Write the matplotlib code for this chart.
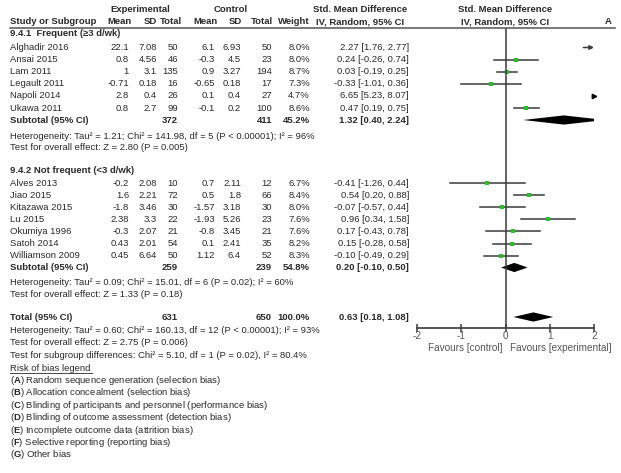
import matplotlib
matplotlib.use("Agg")
import matplotlib.pyplot as plt
from matplotlib.transforms import blended_transform_factory
from matplotlib.lines import Line2D

plt.rcParams["font.family"] = ["Liberation Sans", "DejaVu Sans"]
plt.rcParams["mathtext.fontset"] = "custom"
plt.rcParams["mathtext.rm"] = "Liberation Sans"
plt.rcParams["mathtext.bf"] = "Liberation Sans:bold"

# ---- data ------------------------------------------------------------------
freq_names = ["Alghadir 2016", "Ansai 2015", "Lam 2011", "Legault 2011",
              "Napoli 2014", "Ukawa 2011"]
freq_exp_mean = ["22.1", "0.8", "1", "-0.71", "2.8", "0.8"]
freq_exp_sd = ["7.08", "4.56", "3.1", "0.18", "0.4", "2.7"]
freq_exp_n = [50, 46, 135, 16, 26, 99]
freq_ctl_mean = ["6.1", "-0.3", "0.9", "-0.65", "0.1", "-0.1"]
freq_ctl_sd = ["6.93", "4.5", "3.27", "0.18", "0.4", "0.2"]
freq_ctl_n = [50, 23, 194, 17, 27, 100]
freq_weight = [8.0, 8.0, 8.7, 7.3, 4.7, 8.6]
freq_smd = [2.27, 0.24, 0.03, -0.33, 6.65, 0.47]
freq_lo = [1.76, -0.26, -0.19, -1.01, 5.23, 0.19]
freq_hi = [2.77, 0.74, 0.25, 0.36, 8.07, 0.75]
freq_sub = (1.32, 0.40, 2.24)
freq_sub_n = (372, 411, 45.2)

nf_names = ["Alves 2013", "Jiao 2015", "Kitazawa 2015", "Lu 2015",
            "Okumiya 1996", "Satoh 2014", "Williamson 2009"]
nf_exp_mean = ["-0.2", "1.6", "-1.8", "2.38", "-0.3", "0.43", "0.45"]
nf_exp_sd = ["2.08", "2.21", "3.46", "3.3", "2.07", "2.01", "6.64"]
nf_exp_n = [10, 72, 30, 22, 21, 54, 50]
nf_ctl_mean = ["0.7", "0.5", "-1.57", "-1.93", "-0.8", "0.1", "1.12"]
nf_ctl_sd = ["2.11", "1.8", "3.18", "5.26", "3.45", "2.41", "6.4"]
nf_ctl_n = [12, 66, 30, 23, 21, 35, 52]
nf_weight = [6.7, 8.4, 8.0, 7.6, 7.6, 8.2, 8.3]
nf_smd = [-0.41, 0.54, -0.07, 0.96, 0.17, 0.15, -0.10]
nf_lo = [-1.26, 0.20, -0.57, 0.34, -0.43, -0.28, -0.49]
nf_hi = [0.44, 0.88, 0.44, 1.58, 0.78, 0.58, 0.29]
nf_sub = (0.20, -0.10, 0.50)
nf_sub_n = (259, 239, 54.8)

total = (0.63, 0.18, 1.08)
total_n = (631, 650, 100.0)

axis_ticks = [-2, -1, 0, 1, 2]

freq_het = "Heterogeneity: Tau\u00b2 = 1.21; Chi\u00b2 = 141.98, df = 5 (P < 0.00001); I\u00b2 = 96%"
freq_test = "Test for overall effect: Z = 2.80 (P = 0.005)"
nf_het = "Heterogeneity: Tau\u00b2 = 0.09; Chi\u00b2 = 15.01, df = 6 (P = 0.02); I\u00b2 = 60%"
nf_test = "Test for overall effect: Z = 1.33 (P = 0.18)"
tot_lines = [
    "Heterogeneity: Tau\u00b2 = 0.60; Chi\u00b2 = 160.13, df = 12 (P < 0.00001); I\u00b2 = 93%",
    "Test for overall effect: Z = 2.75 (P = 0.006)",
    "Test for subgroup differences: Chi\u00b2 = 5.10, df = 1 (P = 0.02), I\u00b2 = 80.4%",
]
bias_letters = ["A", "B", "C", "D", "E", "F", "G"]
bias_text = [
    "Random sequence generation (selection bias)",
    "Allocation concealment (selection bias)",
    "Blinding of participants and personnel (performance bias)",
    "Blinding of outcome assessment (detection bias)",
    "Incomplete outcome data (attrition bias)",
    "Selective reporting (reporting bias)",
    "Other bias",
]

# ---- layout (figure pixels) -----------------------------------------------
W, H = 621, 473
FS = 6.8
TXT = "#2a2a2a"
LINE = "#3a3a3a"
GREEN = "#22c422"
STEP = 12.1

fig = plt.figure(figsize=(W / 100, H / 100), dpi=100)
ax = fig.add_axes([417 / W, 0, (594 - 417) / W, 1])
ax.set_xlim(-2, 2)
ax.set_ylim(H, 0)
ax.patch.set_visible(False)
tr = blended_transform_factory(fig.transFigure, ax.transData)

# column right edges (data rows and header row)
COLS = [129, 157, 178, 215, 241, 272, 310, 409]
HEAD_COLS = [132, 157, 182, 218, 242, 273, 310]


def t(x, y, s, ha="left", bold=False, **kw):
    fig.text(x / W, y, s, transform=tr, ha=ha, va="center", fontsize=FS,
             color=TXT, fontweight="bold" if bold else "normal", **kw)


# header
t(140, 10, "Experimental", ha="center", bold=True)
t(231, 10, "Control", ha="center", bold=True)
t(360, 10, "Std. Mean Difference", ha="center", bold=True)
t(505, 10, "Std. Mean Difference", ha="center", bold=True)
t(10, 22, "Study or Subgroup", bold=True)
for x, s in zip(HEAD_COLS, ["Mean", "SD", "Total", "Mean", "SD", "Total", "Weight"]):
    t(x, 22, s, ha="right", bold=True)
t(360, 22, "IV, Random, 95% CI", ha="center", bold=True)
t(505, 22, "IV, Random, 95% CI", ha="center", bold=True)
t(608, 22, "A", ha="center", bold=True)
fig.add_artist(Line2D([10 / W, 615 / W], [1 - 28 / H, 1 - 28 / H],
                      color="#555555", lw=1.1))


def study_rows(y0, names, em, es, en, cm, cs, cn, w, smd, lo, hi):
    for i, name in enumerate(names):
        y = y0 + i * STEP
        t(10, y, name)
        vals = [em[i], es[i], str(en[i]), cm[i], cs[i], str(cn[i]),
                f"{w[i]:.1f}%", f"{smd[i]:.2f} [{lo[i]:.2f}, {hi[i]:.2f}]"]
        for x, s in zip(COLS, vals):
            t(x, y, s, ha="right")
        if lo[i] >= 2:
            # whole interval off the scale: just a small arrowhead at the edge
            ax.plot([2], [y], marker=">", color="black", ms=3.2, clip_on=False)
        elif hi[i] > 2:
            ax.annotate("", xy=(2, y), xytext=(lo[i], y), annotation_clip=False,
                        arrowprops=dict(arrowstyle="-|>", color=LINE, lw=1.1,
                                        mutation_scale=6, shrinkA=0, shrinkB=0))
        else:
            ax.plot([lo[i], hi[i]], [y, y], color=LINE, lw=1.1)
            ax.plot([smd[i]], [y], marker="s", color=GREEN, ms=2.3, mew=0)


def diamond(y, est, lo, hi, half=4.6):
    ax.fill([lo, est, hi, est], [y, y - half, y, y + half], color="black",
            lw=0, clip_on=True)


def subtotal_row(y, label, ns, eff):
    t(10, y, label, bold=True)
    t(COLS[2], y, str(ns[0]), ha="right", bold=True)
    t(COLS[5], y, str(ns[1]), ha="right", bold=True)
    t(COLS[6], y, f"{ns[2]:.1f}%", ha="right", bold=True)
    t(COLS[7], y, f"{eff[0]:.2f} [{eff[1]:.2f}, {eff[2]:.2f}]", ha="right", bold=True)
    diamond(y, *eff)


# subgroup 1
t(10, 34, "9.4.1  Frequent (\u22653 d/wk)", bold=True)
study_rows(47.5, freq_names, freq_exp_mean, freq_exp_sd, freq_exp_n,
           freq_ctl_mean, freq_ctl_sd, freq_ctl_n, freq_weight,
           freq_smd, freq_lo, freq_hi)
subtotal_row(120, "Subtotal (95% CI)", freq_sub_n, freq_sub)
t(10, 136, freq_het)
t(10, 147.5, freq_test)

# subgroup 2
t(10, 170, "9.4.2 Not frequent (<3 d/wk)", bold=True)
study_rows(183, nf_names, nf_exp_mean, nf_exp_sd, nf_exp_n,
           nf_ctl_mean, nf_ctl_sd, nf_ctl_n, nf_weight,
           nf_smd, nf_lo, nf_hi)
subtotal_row(267.5, "Subtotal (95% CI)", nf_sub_n, nf_sub)
t(10, 282, nf_het)
t(10, 294, nf_test)

# total
subtotal_row(317, "Total (95% CI)", total_n, total)
for i, s in enumerate(tot_lines):
    t(10, 330 + i * 12.5, s)

# risk of bias legend
t(10, 368, "Risk of bias legend")
fig.add_artist(Line2D([10 / W, 92 / W], [1 - 373.5 / H, 1 - 373.5 / H],
                      color=TXT, lw=0.6))
for i, (k, s) in enumerate(zip(bias_letters, bias_text)):
    t(10, 380.5 + i * 12.4, "(" + r"$\mathbf{" + k + "}$" + ") " + s)

# forest axis
ax.vlines(0, 28, 328, color=LINE, lw=1.1)
for side in ["top", "right", "left"]:
    ax.spines[side].set_visible(False)
ax.spines["bottom"].set_position(("data", 328))
ax.spines["bottom"].set_color(LINE)
ax.spines["bottom"].set_linewidth(1.2)
ax.set_yticks([])
ax.set_xticks(axis_ticks)
ax.set_xticklabels([str(v) for v in axis_ticks])
ax.tick_params(axis="x", direction="inout", length=6, width=1.1, color=LINE,
               labelsize=FS + 0.4, labelcolor="#555555", pad=-1)
fig.text(502 / W, 348, "Favours [control]", transform=tr, ha="right",
         va="center", fontsize=FS + 0.4, color="#555555")
fig.text(510 / W, 348, "Favours [experimental]", transform=tr, ha="left",
         va="center", fontsize=FS + 0.4, color="#555555")

fig.savefig("out.png", dpi=100)
